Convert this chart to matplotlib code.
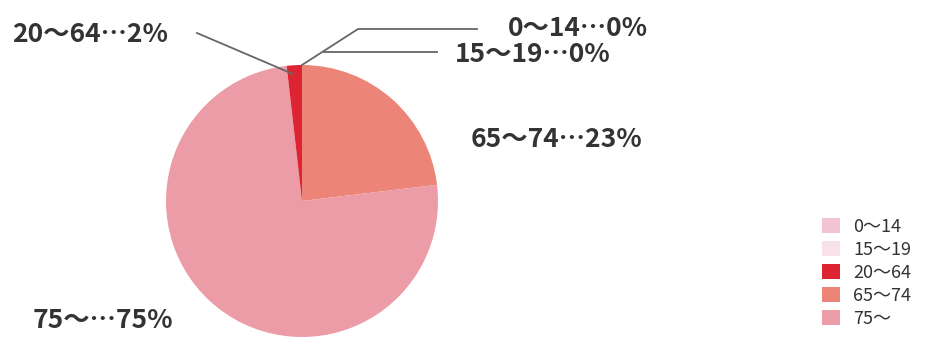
import matplotlib.pyplot as plt
from matplotlib.patches import Patch

plt.rcParams['font.family'] = ['Noto Sans CJK JP', 'DejaVu Sans']

# データ（年齢区分ごとの割合 %）
groups = ['0～14', '15～19', '20～64', '65～74', '75～']
shares = [0.0, 0.0, 1.8, 23.1, 75.1]
label_pct = ['0%', '0%', '2%', '23%', '75%']
colors = ['#f2c4d2', '#f8e1ea', '#dc2433', '#ec8577', '#ec9ca6']

# 円の描画順（12時から時計回り）
draw_order = [3, 4, 2, 0, 1]

fig = plt.figure(figsize=(9.25, 3.47), dpi=100)
ax = fig.add_axes([0, 0, 1, 1])

wedges, _ = ax.pie([shares[i] for i in draw_order],
                   colors=[colors[i] for i in draw_order],
                   startangle=90, counterclock=False, radius=1.0,
                   wedgeprops=dict(linewidth=0))

# 画素位置 -> データ座標 (中心 302,201 / 半径 136px)
def px(x, y):
    return ((x - 302) / 136.0, (201 - y) / 136.0)

ax.set_xlim(-302 / 136.0, (925 - 302) / 136.0)
ax.set_ylim(-146 / 136.0, 201 / 136.0)
ax.set_aspect('equal')
ax.axis('off')

txt = dict(fontsize=19, color='#333333', va='center', fontweight='bold')
line = dict(color='#666666', lw=1.3)

def lab(i):
    return groups[i] + '…' + label_pct[i]

# 引き出し線
ax.plot(*zip(px(197, 33), px(293, 74)), **line)
ax.plot(*zip(px(302, 65), px(358, 29), px(477, 29)), **line)
ax.plot(*zip(px(324, 52), px(437, 52)), **line)

ax.text(*px(12, 34), lab(2), ha='left', **txt)
ax.text(*px(508, 28), lab(0), ha='left', **txt)
ax.text(*px(455, 54), lab(1), ha='left', **txt)
ax.text(*px(471, 139), lab(3), ha='left', **txt)
ax.text(*px(33, 320), lab(4), ha='left', **txt)

handles = [Patch(facecolor=c, edgecolor='none') for c in colors]
leg = fig.legend(handles, groups, loc='upper left',
                 bbox_to_anchor=(809 / 925, 1 - 205 / 347),
                 frameon=False, fontsize=13, handlelength=1.0, handleheight=0.9,
                 handletextpad=0.75, labelspacing=0.28, borderpad=0.2,
                 labelcolor='#333333')

fig.savefig('out.png', dpi=100, facecolor='white')
